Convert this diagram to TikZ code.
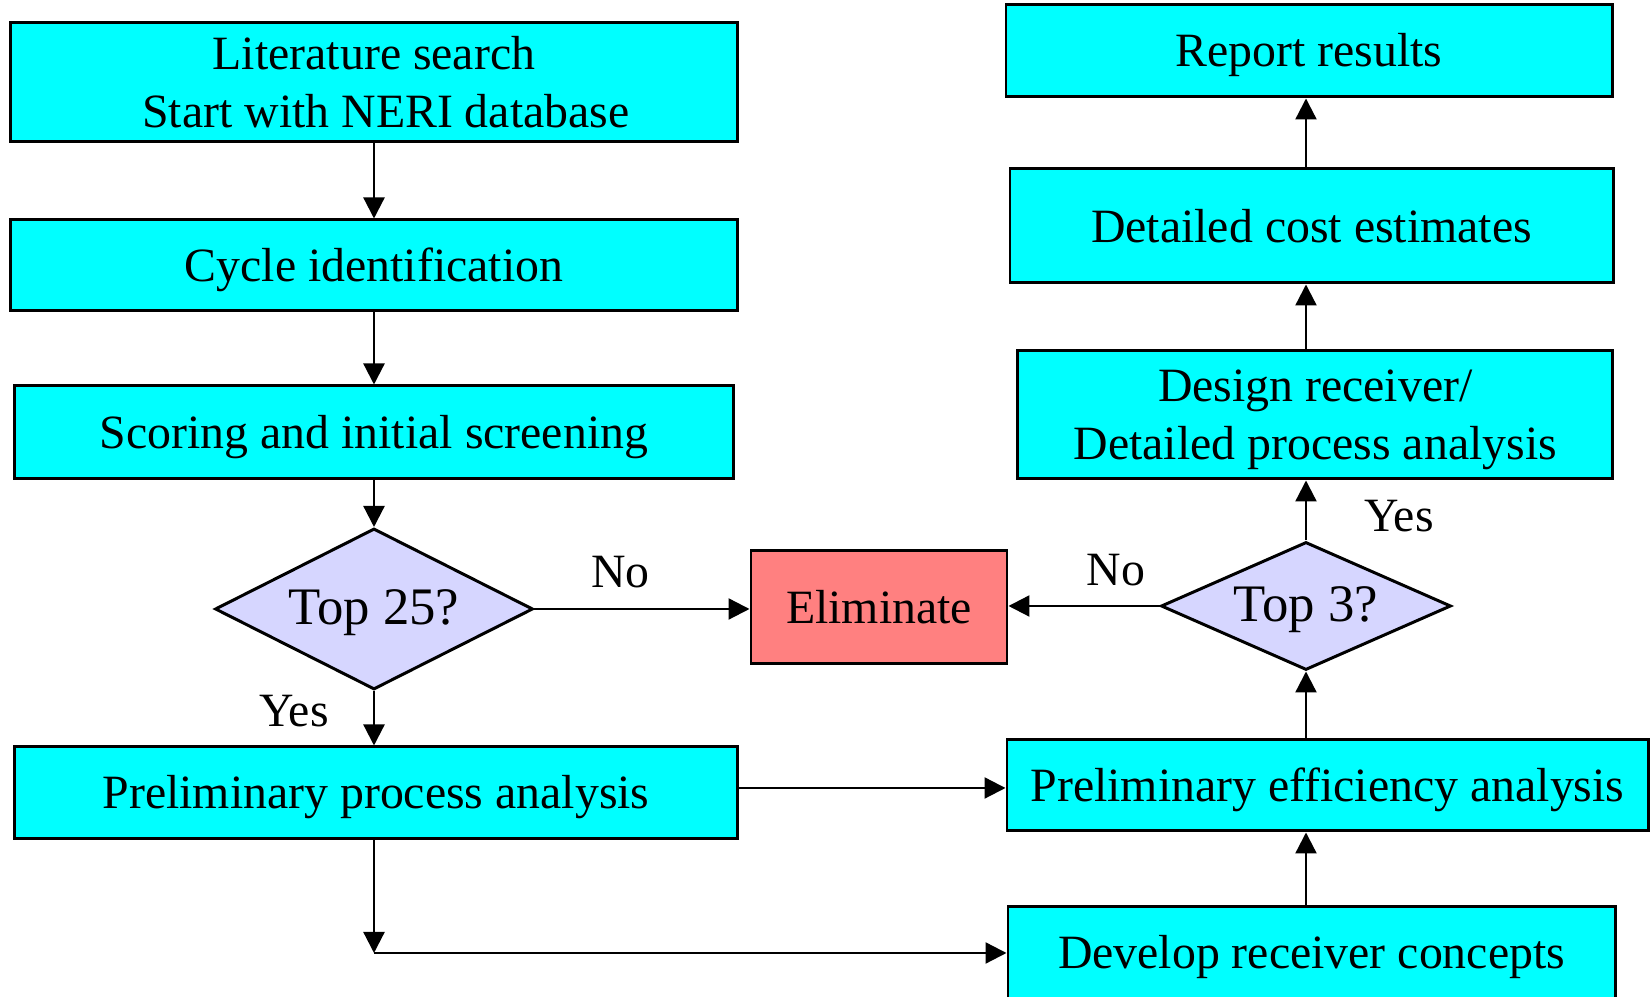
\documentclass[tikz,border=0pt]{standalone}
\usepackage{fontspec}
\setmainfont{Liberation Serif}
\usepackage{xcolor}
\usepackage{tikz}
\usetikzlibrary{arrows.meta,shapes,calc}
\definecolor{boxcyan}{RGB}{0,255,255}
\definecolor{decfill}{RGB}{214,214,255}
\definecolor{elimred}{RGB}{255,128,128}
\tikzstyle{procbox}=[rectangle, draw=black, fill=boxcyan,% plain process step
line width=0.85pt, align=center, inner sep=0pt, font=\fontsize{13.6}{16.5}\selectfont]
\tikzstyle{decide}=[diamond, aspect=2.2, draw=black, fill=decfill,% the two questions
line width=0.85pt, inner sep=0pt, font=\fontsize{15}{18}\selectfont]
\tikzstyle{lowtext}=[text height=11.2pt, text depth=2.2pt]
\tikzstyle{flow}=[-{Triangle[length=2.1mm,width=2.1mm]}, line width=0.65pt]
\tikzstyle{lbl}=[font=\fontsize{13.6}{16.5}\selectfont]

\begin{document}
\begin{tikzpicture}[flow]
\useasboundingbox (0,0) rectangle (16.5,-9.97);
% left column
\node[procbox, minimum width=7.27cm, minimum height=1.19cm] (lit) at (3.74,-0.825) {Literature search\\\hspace*{0.5em}Start with NERI database};
\node[procbox, lowtext, minimum width=7.27cm, minimum height=0.91cm] (cyc) at (3.74,-2.655) {Cycle identification};
\node[procbox, lowtext, minimum width=7.19cm, minimum height=0.93cm] (score) at (3.74,-4.325) {Scoring and initial screening};
\node[decide, lowtext, minimum width=3.18cm, minimum height=1.61cm] (top25) at (3.74,-6.09) {Top 25?};
\node[procbox, lowtext, minimum width=7.23cm, minimum height=0.92cm] (ppa) at (3.76,-7.93) {Preliminary process analysis};
\coordinate (jn) at (3.74,-9.53);
% middle
\node[procbox, fill=elimred, minimum width=2.56cm, minimum height=1.13cm] (elim) at (8.79,-6.075) {Eliminate};
% right column
\node[procbox, minimum width=6.07cm, minimum height=1.0cm] (drc) at (13.115,-9.57) {Develop receiver concepts};
\node[procbox, lowtext, minimum width=6.41cm, minimum height=0.91cm] (pea) at (13.275,-7.855) {Preliminary efficiency analysis};
\node[decide, lowtext, minimum width=2.90cm, minimum height=1.28cm] (top3) at (13.06,-6.06) {Top 3?};
\node[procbox, minimum width=5.95cm, minimum height=1.28cm] (drd) at (13.153,-4.15) {\rule{0pt}{0.86em}Design receiver/\\Detailed process analysis};
\node[procbox, minimum width=6.03cm, minimum height=1.14cm] (dce) at (13.115,-2.26) {Detailed cost estimates};
\node[procbox, lowtext, minimum width=6.06cm, minimum height=0.92cm] (rep) at (13.09,-0.51) {Report results};

\draw (lit) -- (cyc);
\draw (cyc) -- (score);
\draw (score) -- (top25);
\draw (top25.east) -- node[lbl, pos=0.4, yshift=0.37cm] {No} (top25.east -| elim.west);
\draw (top25) -- node[lbl, pos=0.36, xshift=-0.8cm] {Yes} (top25 |- ppa.north);
\draw ([yshift=0.05cm]ppa.east) -- ([yshift=0.05cm]ppa.east -| pea.west);
\draw (ppa.south -| jn) -- (jn);
\draw (jn) -- (jn -| drc.west);
\draw (drc.north -| top3) -- (pea.south -| top3);
\draw (pea.north -| top3) -- (top3.south);
\draw (top3.west) -- node[lbl, pos=0.29, yshift=0.36cm] {No} (top3.west -| elim.east);
\draw (top3.north) -- node[lbl, pos=0.4, xshift=0.93cm] {Yes} (drd.south -| top3);
\draw (drd.north -| top3) -- (dce.south -| top3);
\draw (dce.north -| top3) -- (rep.south -| top3);
\end{tikzpicture}
\end{document}
